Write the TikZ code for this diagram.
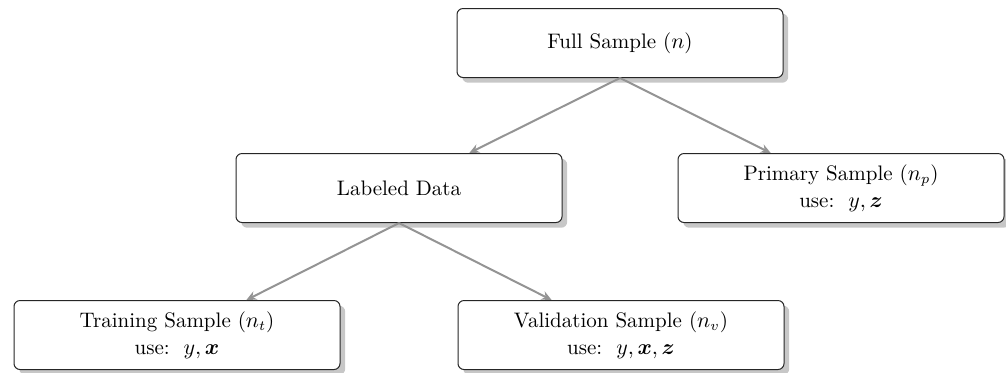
\documentclass[tikz,border=0pt]{standalone}
\usepackage{amsmath}
\usetikzlibrary{shadows,arrows.meta}
\begin{document}
\begin{tikzpicture}[
  x=1pt,y=1pt,
  box/.style={draw=black!85, line width=0.5pt, rounded corners=3pt, fill=white,
    minimum width=163pt, minimum height=34.5pt, align=center,
    font=\fontsize{10.5}{13.5}\selectfont,
    drop shadow={shadow xshift=2.6pt, shadow yshift=-2.6pt, fill=black!22, opacity=1}},
  link/.style={draw=black!42, line width=1pt, -{Stealth[length=5pt,width=4.5pt]}}
]
\useasboundingbox (0,0) rectangle (503,-186);
\node[box] (full) at (310,-21.5) {Full Sample ($n$)};
\node[box] (lab) at (199.5,-94) {Labeled Data};
\node[box] (prim) at (420.5,-94) {Primary Sample ($n_p$)\\use:\ \ $y, \boldsymbol{z}$};
\node[box] (train) at (88.5,-167.5) {Training Sample ($n_t$)\\use:\ \ $y, \boldsymbol{x}$};
\node[box] (val) at (310.5,-167.5) {Validation Sample ($n_v$)\\use:\ \ $y, \boldsymbol{x}, \boldsymbol{z}$};
\draw[link] (full.south) -- (lab);
\draw[link] (full.south) -- (prim);
\draw[link] (lab.south) -- (train);
\draw[link] (lab.south) -- (val);
\end{tikzpicture}
\end{document}
